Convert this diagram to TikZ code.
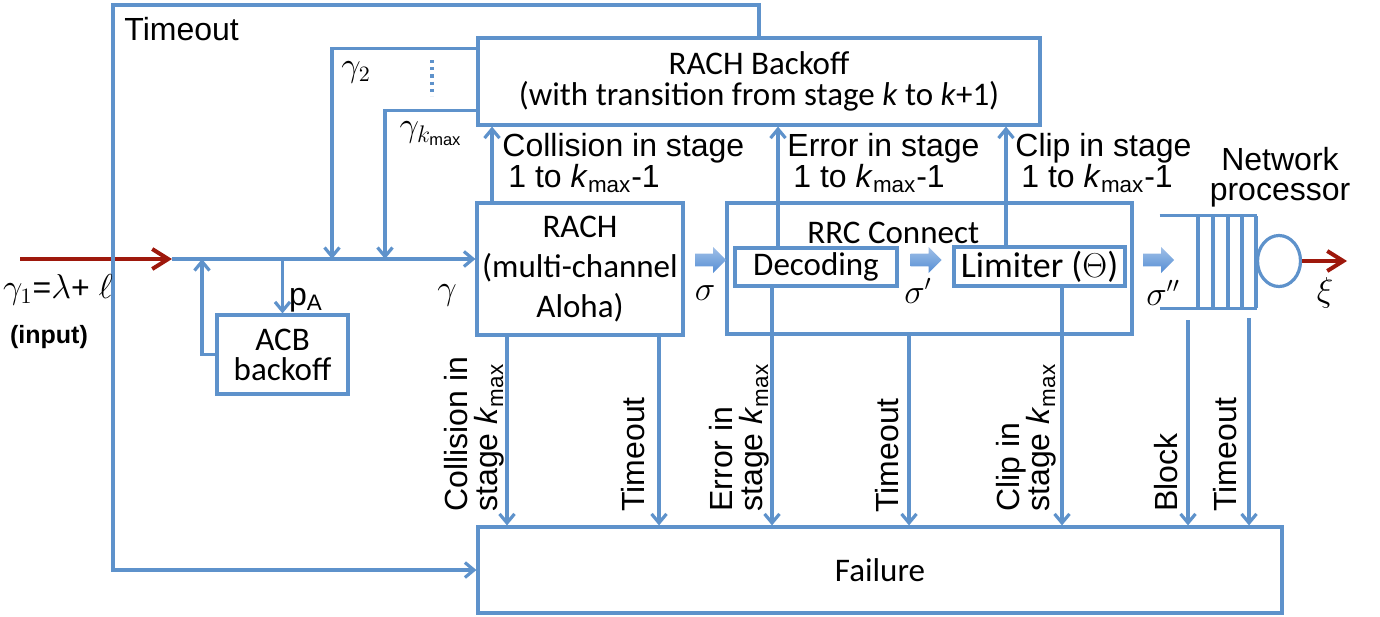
\documentclass[tikz,border=0pt]{standalone}
\usepackage{fontspec}
\setmainfont{Liberation Sans}
\newfontfamily\calibri{Carlito}
\usetikzlibrary{arrows.meta}
\usetikzlibrary{calc}
\usetikzlibrary{shapes}

\begin{document}
\begin{tikzpicture}[x=0.5pt,y=-0.5pt,
    box/.style={draw=lblue,line width=1.6pt,inner sep=0pt,align=center,
      font=\calibri\fontsize{16.5}{20}\selectfont},
    flow/.style={draw=lblue,line width=1.6pt,-{Straight Barb[length=4.5pt,width=7.5pt]}},
    wire/.style={draw=lblue,line width=1.6pt},
    lab/.style={inner sep=0pt,align=left,font=\fontsize{16}{15.5}\selectfont},
    vlab/.style={inner sep=0pt,align=left,rotate=90,anchor=south west,
      font=\fontsize{16}{15}\selectfont},
    fat/.style={single arrow,draw=none,inner sep=3pt,minimum height=15.5pt,
      single arrow head extend=3.3pt,single arrow head indent=0pt,
      top color=ablue!55,bottom color=ablue}
    ]

\definecolor{lblue}{RGB}{94,146,203}
\definecolor{ablue}{RGB}{84,141,212}
\definecolor{dred}{RGB}{158,24,12}

\useasboundingbox (0,0) rectangle (1380,616);

% boxes
\node[box,minimum width=281pt,minimum height=43.5pt,
  font=\calibri\fontsize{16.5}{15.5}\selectfont] (bo) at (759,81.5)
  {RACH Backoff\\(with transition from stage \textit{k} to \textit{k}+1)};
\node[box,minimum width=103pt,minimum height=66pt] (rach) at (580,269)
  {RACH\\(multi-channel\\Aloha)};
\node[box,minimum width=202.5pt,minimum height=65.5pt] (rrc) at (929.5,268.5) {};
\node[inner sep=0pt,anchor=base west,font=\calibri\fontsize{16.5}{20}\selectfont]
  (rrct) at (807,243) {RRC Connect};
\node[box,minimum width=81pt,minimum height=19pt] (dec) at (816,267) {Decoding};
\node[box,minimum width=85.5pt,minimum height=19.5pt,
  font=\calibri\fontsize{18}{20}\selectfont] (lim) at (1039.5,266.5) {Limiter ($\Theta$)};
\node[box,minimum width=65.5pt,minimum height=39.5pt,
  font=\calibri\fontsize{16.5}{15}\selectfont] (acb) at (282.5,354.5) {ACB\\backoff};
\node[box,minimum width=402pt,minimum height=43pt] (fail) at (880,570) {Failure};

% network processor
\node[minimum width=48.5pt,minimum height=46pt,inner sep=0pt] (q) at (1208.5,262) {};
\draw[wire] (q.north west) -- (q.north east);
\draw[wire] (q.south west) -- (q.south east);
\foreach \x in {1198,1213,1228,1242,1256}
  \draw[wire] (\x,216) -- (\x,308);
\node[draw=lblue,line width=1.6pt,ellipse,minimum width=21.5pt,minimum height=25.5pt,
  inner sep=0pt] (srv) at (1279,261) {};
\node[lab,align=center,font=\fontsize{16}{15}\selectfont] (np) at (1280,177) {Network\\processor};

% input line
\coordinate (in) at (20,259);
\coordinate (j0) at (172,259);
\draw[dred,line width=2pt,-{Straight Barb[length=8pt,width=10pt]}] (in) -- (j0);
\draw[flow] (j0) -- (j0 -| rach.west);

% ACB
\coordinate (j1) at (202,259);
\draw[flow] (acb.west) -| (j1);
\draw[flow] (acb.north |- j0) -- (acb.north);

% backoff loops
\coordinate (g2) at (332,259);
\coordinate (gk) at (385,259);
\draw[flow] ($(bo.north west)+(0,12)$) -| (g2);
\draw[flow] ($(bo.north west)+(0,74)$) -| (gk);
\draw[lblue,line width=1.6pt,dotted] (432,60) -- (432,96);
\coordinate (tl) at (113,5);
\draw[flow] (bo.north) |- (tl) |- (fail.west);

% up to backoff
\coordinate (c1) at (492,0);
\coordinate (c2) at (778,0);
\coordinate (c3) at (1006,0);
\draw[flow] (rach.north -| c1) -- (bo.south -| c1);
\draw[flow] (dec.north -| c2) -- (bo.south -| c2);
\draw[flow] (lim.north -| c3) -- (bo.south -| c3);

% down to failure
\foreach \nd/\x in {rach/507,rach/659,dec/772,rrc/909,lim/1062} {
  \coordinate (d) at (\x,0);
  \draw[flow] (\nd.south -| d) -- (fail.north -| d);
}
\foreach \x/\y in {1188/320,1249/318} {
  \coordinate (d) at (\x,\y);
  \draw[flow] (d) -- (fail.north -| d);
}

% block arrows
\node[fat] (s1) at (707.5,260) {};
\node[fat] (s2) at (923,260) {};
\node[fat] (s3) at (1155.5,260) {};
\coordinate (out) at (1347,261);
\draw[dred,line width=2pt,-{Straight Barb[length=8pt,width=10pt]}] (srv.east) -- (out);

% labels
\node[lab,anchor=base west] (tout) at (124,40) {Timeout};
\node[lab] (lg2) at (356,72) {$\gamma_2$};
\node[lab,font=\fontsize{16.5}{16}\selectfont] (lgk) at (431,134) {$\gamma_{k_{\mathrm{max}}}$};
\node[lab] (pa) at (306,300) {p\textsubscript{A}};
\node[lab] (lg) at (447,295) {$\gamma$};
\node[lab] (lin) at (58,290) {$\gamma_1$=$\lambda$+ $\ell$};
\node[lab,font=\bfseries\fontsize{12.5}{14}\selectfont] (linp) at (49,337) {(input)};
\node[lab] (ls1) at (705,293) {$\sigma$};
\node[lab] (ls2) at (918,291) {$\sigma'$};
\node[lab] (ls3) at (1163,293) {$\sigma''$};
\node[lab] (lxi) at (1325,293) {$\xi$};

\node[lab,anchor=north west] (lc) at (502,133)
  {Collision in stage\\\hspace{3pt}1 to \textit{k}\textsubscript{max}-1};
\node[lab,anchor=north west] (le) at (787,133)
  {Error in stage\\\hspace{3pt}1 to \textit{k}\textsubscript{max}-1};
\node[lab,anchor=north west] (lcl) at (1015,133)
  {Clip in stage\\\hspace{3pt}1 to \textit{k}\textsubscript{max}-1};

\node[vlab] (rc1) at (505,512) {Collision in\\stage \textit{k}\textsubscript{max}};
\node[vlab] (rt1) at (645,512) {Timeout};
\node[vlab] (re) at (770,512) {Error in\\stage \textit{k}\textsubscript{max}};
\node[vlab] (rt2) at (899,513) {Timeout};
\node[vlab] (rcl) at (1057,512) {Clip in\\stage \textit{k}\textsubscript{max}};
\node[vlab] (rb) at (1178,512) {Block};
\node[vlab] (rt3) at (1237,512) {Timeout};

\end{tikzpicture}
\end{document}
